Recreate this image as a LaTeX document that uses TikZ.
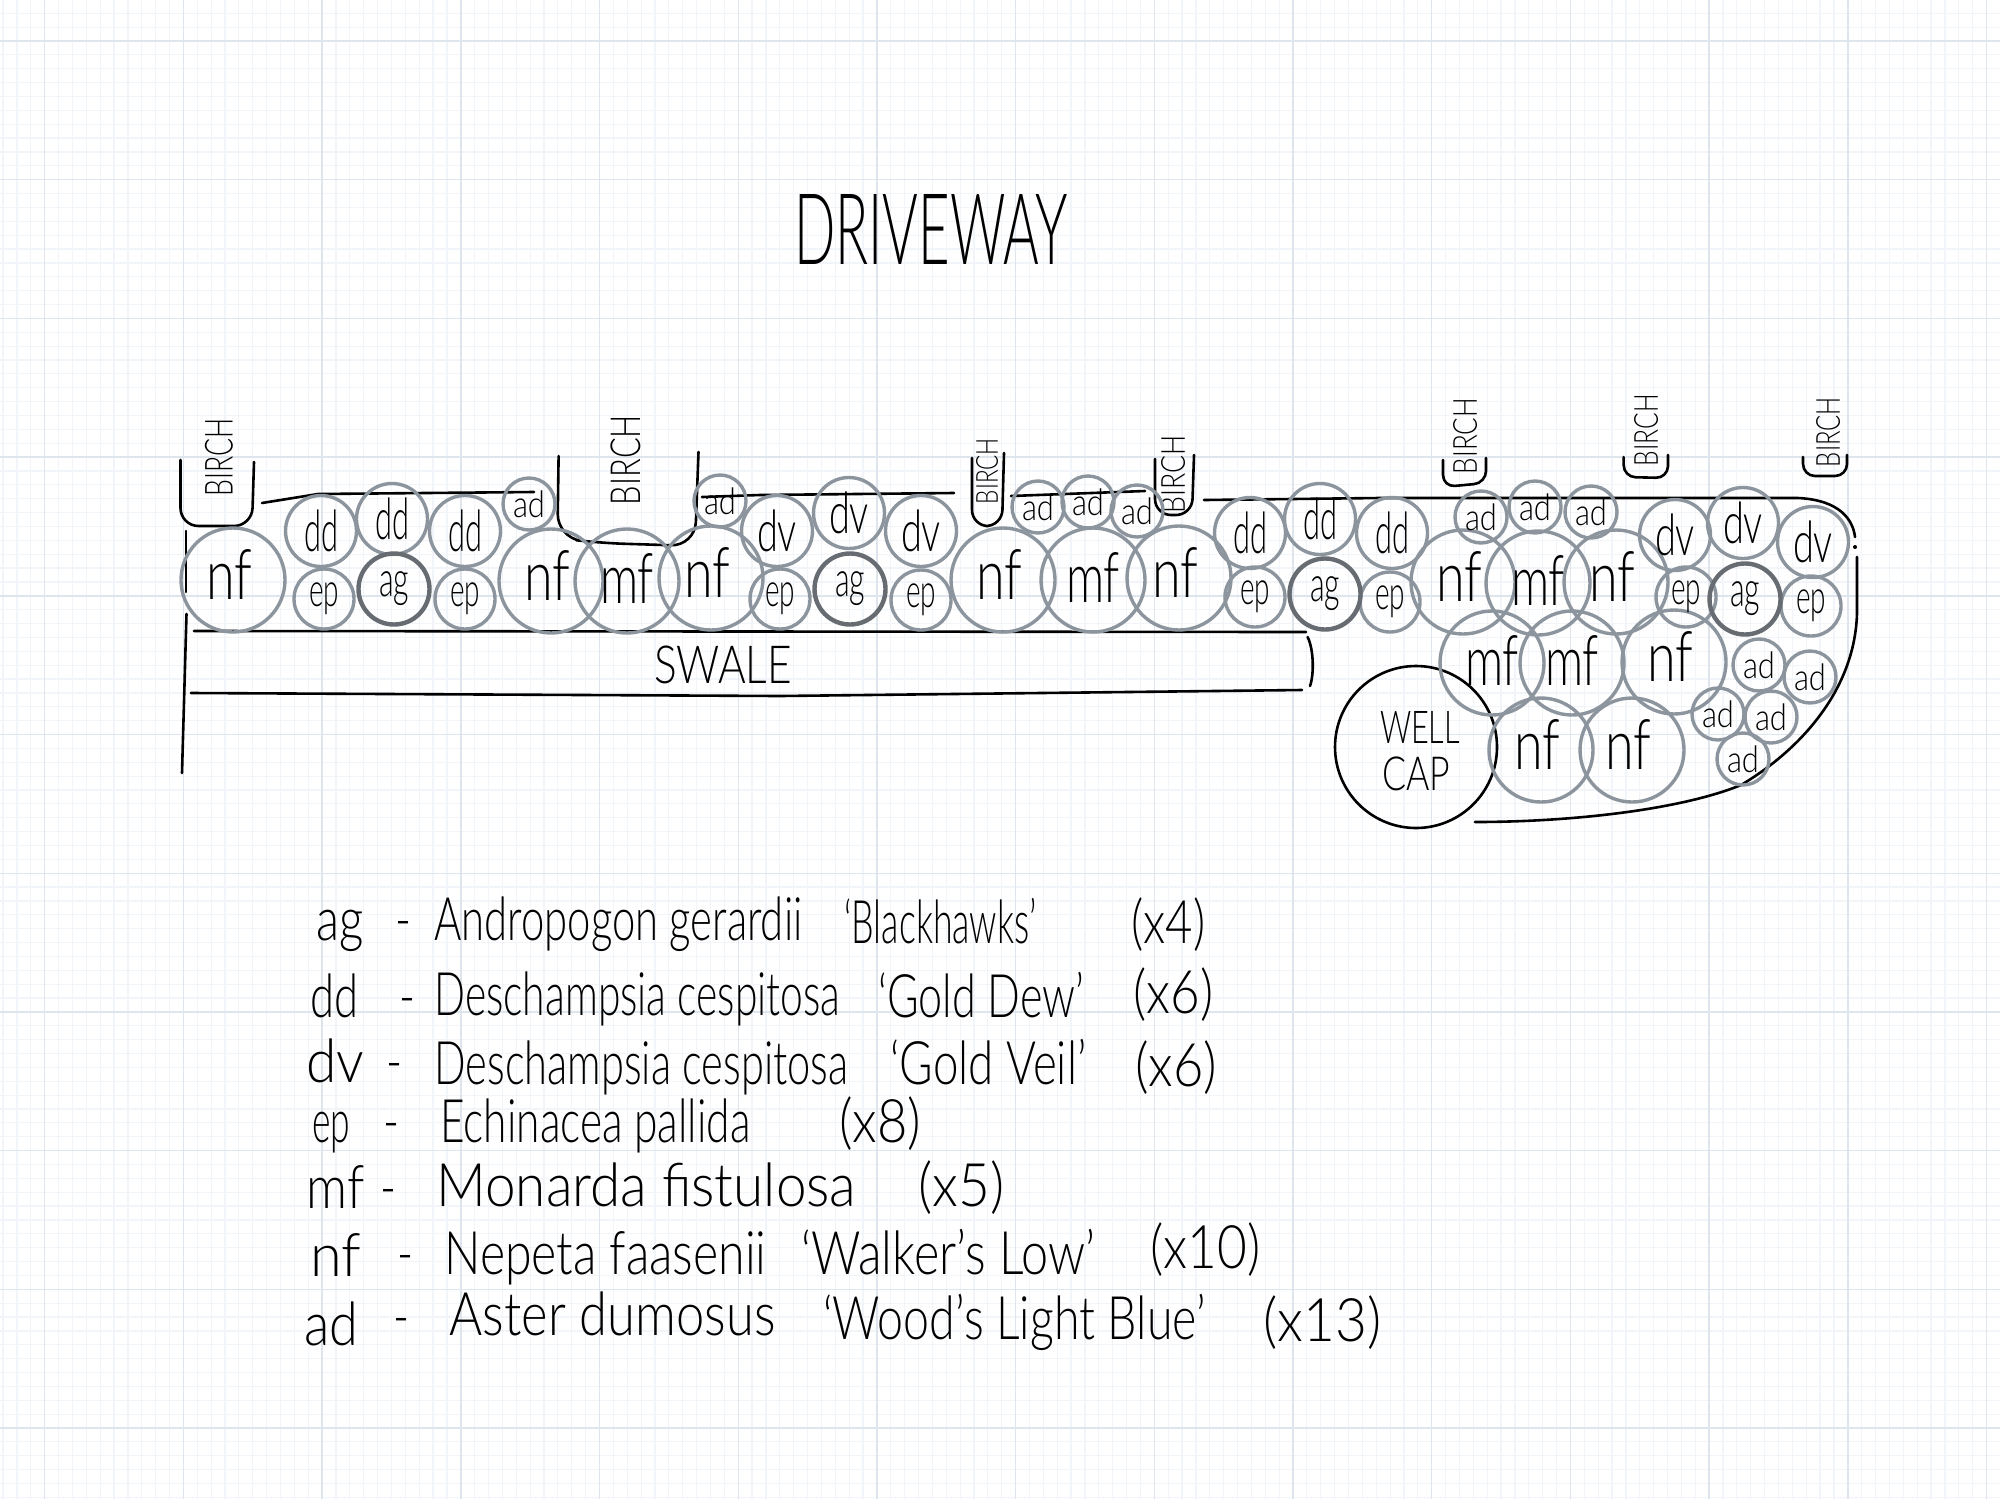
\documentclass[tikz,border=0pt]{standalone}
\usepackage{fontspec}
\usepackage{graphicx}
\setmainfont{Lato Light}
\definecolor{gridminor}{HTML}{F1F4F8}
\definecolor{gridmajor}{HTML}{DEE5ED}
\definecolor{plantgray}{HTML}{8C959D}
\definecolor{grassgray}{HTML}{666C72}
\newcommand{\fitbox}[3]{\resizebox*{#1}{#2}{#3}}
\newcommand{\fitw}[2]{\resizebox{#1}{\height}{#2}}
\newcommand{\nudged}[1]{\raisebox{3pt}[\height][\depth]{\kern-2pt #1\kern2pt}}
\newcommand{\lifted}[1]{\raisebox{1.5pt}[\height][\depth]{#1}}
\tikzset{
	plant/.style={circle,draw=plantgray,line width=1.7pt,inner sep=0pt,text=black},
	bigplant/.style={plant,minimum size=52pt},
	midplant/.style={plant,minimum size=35.5pt},
	epplant/.style={plant,minimum size=30pt},
	adplant/.style={plant,minimum size=26pt},
	agplant/.style={plant,draw=grassgray,line width=2.2pt,minimum size=35.5pt},
	hand/.style={black,line width=1.3pt,line cap=round,line join=round},
	birchtext/.style={rotate=90,inner sep=0pt,font=\fontsize{15}{15}\selectfont},
	legendtext/.style={anchor=base west,inner sep=0pt,font=\fontsize{30}{30}\selectfont},
	bigtext/.style={inner sep=0pt,font=\fontsize{24}{24}\selectfont}
}
\begin{document}
\begin{tikzpicture}[x=.5pt,y=-.5pt]
	\useasboundingbox (0,0) rectangle (2000,1499);
	\clip (0,0) rectangle (2000,1499);
	% paper
	\foreach \i in {-3,...,143} {
		\draw[gridminor,line width=.6pt] ({44.7+13.87*\i},0) -- ({44.7+13.87*\i},1499);
	}
	\foreach \i in {-2,...,108} {
		\draw[gridminor,line width=.6pt] (0,{41+13.87*\i}) -- (2000,{41+13.87*\i});
	}
	\foreach \i in {0,...,14} {
		\draw[gridmajor,line width=.7pt] ({44.7+138.7*\i},0) -- ({44.7+138.7*\i},1499);
	}
	\foreach \i in {0,...,10} {
		\draw[gridmajor,line width=.7pt] (0,{41+138.7*\i}) -- (2000,{41+138.7*\i});
	}

	\node[bigtext,font=\fontsize{44}{44}\selectfont] (driveway) at (931,229) {\fitbox{137pt}{35pt}{DRIVEWAY}};

	% property edge
	\draw[hand] (186,531) -- (186,592);
	\draw[hand] (186.5,614) -- (182,773);
	\draw[hand] (262,503) -- (318,494) -- (534,492);
	\draw[hand] (702,497) -- (760,495) -- (954,493);
	\draw[hand] (1011,496) -- (1145,491);
	\draw[hand] (1204,500) -- (1380,498) -- (1798,498) .. controls (1840,500) and (1853,520) .. (1855,537);
	\fill[black] (1855,547) circle (1pt);
	\draw[hand] (1857,557) -- (1857,613) .. controls (1855,690) and (1800,750) .. (1741,785) .. controls (1680,810) and (1570,822) .. (1475,822);

	% birch beds
	\draw[hand,rounded corners=9pt] (180.5,460) -- (180.5,526) -- (252,526) -- (254,462);
	\draw[hand,rounded corners=12pt] (558.6,456) -- (557.4,538) -- (600,543) -- (695,546) -- (698.5,452);
	\draw[hand,rounded corners=8pt] (972,458) -- (972,526) -- (1002,526) -- (1004,453);
	\draw[hand,rounded corners=8pt] (1155,459) -- (1155,515) -- (1192,515) -- (1194,455);
	\draw[hand,rounded corners=6pt] (1443,460) -- (1443,487) -- (1486,483) -- (1486,458);
	\draw[hand,rounded corners=6pt] (1623.6,457) -- (1623.6,477) -- (1668,478) -- (1668,455);
	\draw[hand,rounded corners=6pt] (1803,457) -- (1803,476) -- (1847,476) -- (1847,455);

	\node[birchtext] (birch1) at (219,457) {\fitbox{39pt}{14pt}{BIRCH}};
	\node[birchtext] (birch2) at (626,460) {\fitbox{45pt}{15pt}{BIRCH}};
	\node[birchtext] (birch3) at (987,471) {\fitbox{33pt}{11pt}{BIRCH}};
	\node[birchtext] (birch4) at (1173,474) {\fitbox{39pt}{12pt}{BIRCH}};
	\node[birchtext] (birch5) at (1465,436) {\fitbox{38pt}{12pt}{BIRCH}};
	\node[birchtext] (birch6) at (1646,430) {\fitbox{36pt}{12pt}{BIRCH}};
	\node[birchtext] (birch7) at (1828,432) {\fitbox{35pt}{12pt}{BIRCH}};

	% swale
	\draw[hand] (194,631) -- (1306,632);
	\draw[hand] (1307.6,637) .. controls (1314,650) and (1314,675) .. (1310,686);
	\draw[hand] (191,693) -- (780,696) -- (1302,690);
	\node[bigtext] (swale) at (723,665) {\fitbox{69pt}{19pt}{SWALE}};

	% well cap
	\node[circle,draw=black,line width=1.3pt,minimum size=81pt,inner sep=0pt] (wellcap) at (1416,747) {};
	\node[bigtext] (well) at (1420,727) {\fitbox{40pt}{16pt}{WELL}};
	\node[bigtext] (cap) at (1416,774) {\fitbox{34pt}{17pt}{CAP}};

	% plants
	\foreach \cx/\cy [count=\i] in {233/580,551/581,711/578,1003/580,1179/578,1463/582,1616/582,1674/662,1541/750,1632/750} {
		\node[bigplant] (nf\i) at (\cx,\cy) {\nudged{\fitbox{23pt}{25pt}{nf}}};
	}
	\foreach \cx/\cy [count=\i] in {627/581,1093/580,1538/583,1492/663,1572/663} {
		\node[bigplant] (mf\i) at (\cx,\cy) {\lifted{\fitbox{27pt}{25pt}{mf}}};
	}
	\foreach \cx/\cy [count=\i] in {321/531,392/519,465/531,1250/533,1320/519,1392/533} {
		\node[midplant] (dd\i) at (\cx,\cy) {\fitbox{17pt}{21pt}{dd}};
	}
	\foreach \cx/\cy [count=\i] in {777/531,849/513,921/531,1675/535,1743/523,1813/542} {
		\node[midplant] (dv\i) at (\cx,\cy) {\fitbox{20pt}{21pt}{dv}};
	}
	\foreach \cx/\cy [count=\i] in {324/599,465/599,780/599,921/600,1255/597,1390/602,1686/597,1811/606} {
		\node[epplant] (ep\i) at (\cx,\cy) {\fitbox{15pt}{16pt}{ep}};
	}
	\foreach \cx/\cy [count=\i] in {394/589,850/589,1325/594,1745/599} {
		\node[agplant] (ag\i) at (\cx,\cy) {\fitbox{15pt}{17pt}{ag}};
	}
	\foreach \cx/\cy [count=\i] in {529/504,720/501,1038/507,1088/502,1137/511,1481/517,1535/507,1591/512,1759/665,1810/677,1718/714,1771/717,1743/759} {
		\node[adplant] (ad\i) at (\cx,\cy) {\fitbox{16pt}{13.5pt}{ad}};
	}

	% legend
	\node[legendtext] (agcode) at (316,940) {\fitw{23.6pt}{ag}};
	\node[legendtext] (agdash) at (395,940) {\fitw{8pt}{-}};
	\node[legendtext] (agname) at (434,940) {\fitw{184pt}{Andropogon gerardii}};
	\node[legendtext] (agkind) at (844,943) {\fitw{96pt}{`Blackhawks'}};
	\node[legendtext] (agcount) at (1131,943) {\fitw{37pt}{(x4)}};

	\node[legendtext] (ddcode) at (310,1017) {\fitw{24pt}{dd}};
	\node[legendtext] (dddash) at (399,1017) {\fitw{8pt}{-}};
	\node[legendtext] (ddname) at (434,1015) {\fitw{203pt}{Deschampsia cespitosa}};
	\node[legendtext] (ddkind) at (878,1017) {\fitw{103pt}{`Gold Dew'}};
	\node[legendtext] (ddcount) at (1133,1013) {\fitw{40pt}{(x6)}};

	\node[legendtext] (dvcode) at (306,1082) {\fitw{29pt}{dv}};
	\node[legendtext] (dvdash) at (386,1082) {\fitw{8pt}{-}};
	\node[legendtext] (dvname) at (434,1084) {\fitw{207pt}{Deschampsia cespitosa}};
	\node[legendtext] (dvkind) at (890,1084) {\fitw{98pt}{`Gold Veil'}};
	\node[legendtext] (dvcount) at (1135,1086) {\fitw{41pt}{(x6)}};

	\node[legendtext] (epcode) at (312,1142) {\fitw{19pt}{ep}};
	\node[legendtext] (epdash) at (383,1142) {\fitw{8pt}{-}};
	\node[legendtext] (epname) at (440,1142) {\fitw{155pt}{Echinacea pallida}};
	\node[legendtext] (epcount) at (839,1142) {\fitw{41pt}{(x8)}};

	\node[legendtext] (mfcode) at (306,1208) {\fitw{29pt}{mf}};
	\node[legendtext] (mfdash) at (380,1208) {\fitw{8pt}{-}};
	\node[legendtext] (mfname) at (436,1206) {\fitw{210pt}{Monarda fistulosa}};
	\node[legendtext] (mfcount) at (918,1206) {\fitw{43pt}{(x5)}};

	\node[legendtext] (nfcode) at (310,1276) {\fitw{25.5pt}{nf}};
	\node[legendtext] (nfdash) at (397,1274) {\fitw{8pt}{-}};
	\node[legendtext] (nfname) at (444,1274) {\fitw{161pt}{Nepeta faasenii}};
	\node[legendtext] (nfkind) at (801,1274) {\fitw{147pt}{`Walker's Low'}};
	\node[legendtext] (nfcount) at (1150,1268) {\fitw{55pt}{(x10)}};

	\node[legendtext] (adcode) at (304,1345) {\fitw{27pt}{ad}};
	\node[legendtext] (addash) at (393,1337) {\fitw{8pt}{-}};
	\node[legendtext] (adname) at (449,1335) {\fitw{163pt}{Aster dumosus}};
	\node[legendtext] (adkind) at (823,1339) {\fitw{191pt}{`Wood's Light Blue'}};
	\node[legendtext] (adcount) at (1263,1341) {\fitw{59pt}{(x13)}};
\end{tikzpicture}
\end{document}
